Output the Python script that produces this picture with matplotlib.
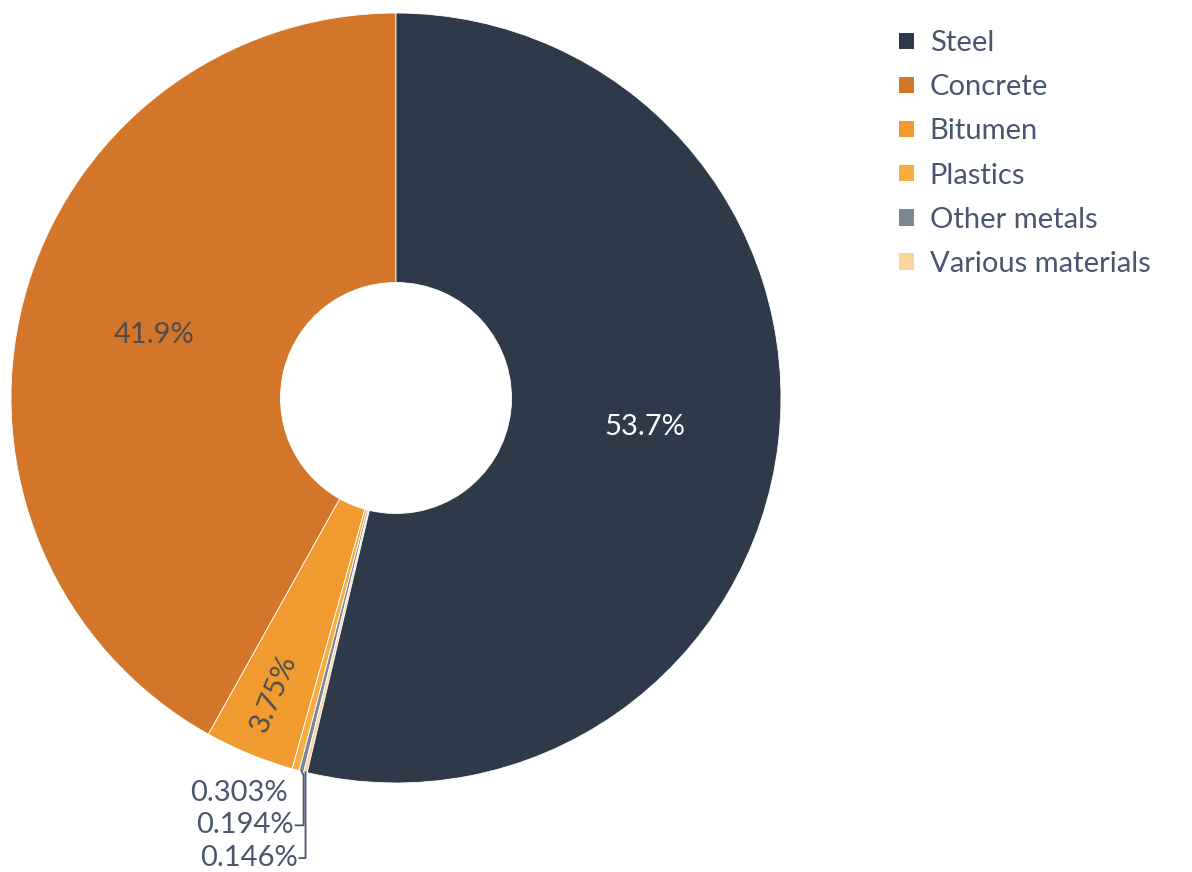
import matplotlib
matplotlib.use("Agg")
import matplotlib.pyplot as plt
from matplotlib.patches import Patch
import numpy as np

plt.rcParams["font.family"] = ["Lato", "DejaVu Sans"]

# Share of material mass, in percent
materials = ["Steel", "Concrete", "Bitumen", "Plastics", "Other metals", "Various materials"]
shares = [53.7, 41.9, 3.75, 0.303, 0.194, 0.146]
labels = ["53.7%", "41.9%", "3.75%", "0.303%", "0.194%", "0.146%"]
colors = ["#2e3a4a", "#d4762a", "#f09a30", "#f6ad3f", "#7b8794", "#fdd49b"]

TEXT = "#4a5670"
FS = 21

# slices run counter-clockwise from 12 o'clock in this order
draw_order = [1, 2, 3, 4, 5, 0]

fig = plt.figure(figsize=(11.92, 8.72), dpi=100)
ax = fig.add_axes([11 / 1192, 89 / 872, 770 / 1192, 770 / 872])

wedges, _ = ax.pie(
    [shares[i] for i in draw_order],
    colors=[colors[i] for i in draw_order],
    startangle=90,
    counterclock=True,
    radius=1.0,
    wedgeprops=dict(width=0.7, edgecolor="white", linewidth=0.6),
)
# pie() sets its own padded limits; pin the ring to the axes box
ax.set_xlim(-1, 1)
ax.set_ylim(-1, 1)
ax.set_aspect("equal")
ax.axis("off")

total = sum(shares)
mid_angle = {}
start = 90.0
for i in draw_order:
    span = 360.0 * shares[i] / total
    mid_angle[i] = start + span / 2
    start += span

def polar(angle, r):
    a = np.deg2rad(angle)
    return r * np.cos(a), r * np.sin(a)

# inside labels
x, y = polar(mid_angle[0], 0.65)
ax.text(x, y, labels[0], color="white", fontsize=FS, ha="center", va="center")
x, y = polar(mid_angle[1], 0.65)
ax.text(x, y, labels[1], color="#4d4d4d", fontsize=FS, ha="center", va="center")
x, y = polar(mid_angle[2], 0.83)
ax.text(x, y, labels[2], color="#4d4d4d", fontsize=FS, ha="center", va="center",
        rotation=mid_angle[2] - 180, rotation_mode="anchor")

# outside labels for the thin slices, stacked below the ring
text_y = [-1.025, -1.11, -1.195]
text_x = [-0.28, -0.265, -0.255]
line_x = [-0.245, -0.24, -0.235]
for k, i in enumerate([3, 4, 5]):
    ox, oy = polar(mid_angle[i], 1.0)
    ax.text(text_x[k], text_y[k], labels[i], color=TEXT, fontsize=FS,
            ha="right", va="center", clip_on=False)
    if k > 0:
        ax.plot([ox, line_x[k], line_x[k], text_x[k] + 0.004],
                [oy, oy - 0.01, text_y[k], text_y[k]],
                color=TEXT, linewidth=1.3, clip_on=False)

handles = [Patch(facecolor=c, edgecolor="none") for c in colors]
leg = fig.legend(handles, materials, loc="upper left",
                 bbox_to_anchor=(873 / 1192, 1 - 4 / 872),
                 frameon=False, fontsize=FS, handlelength=0.5, handleheight=0.5,
                 handletextpad=0.55, labelspacing=0.62, labelcolor=TEXT)

fig.savefig("out.png", dpi=100, facecolor="white")
